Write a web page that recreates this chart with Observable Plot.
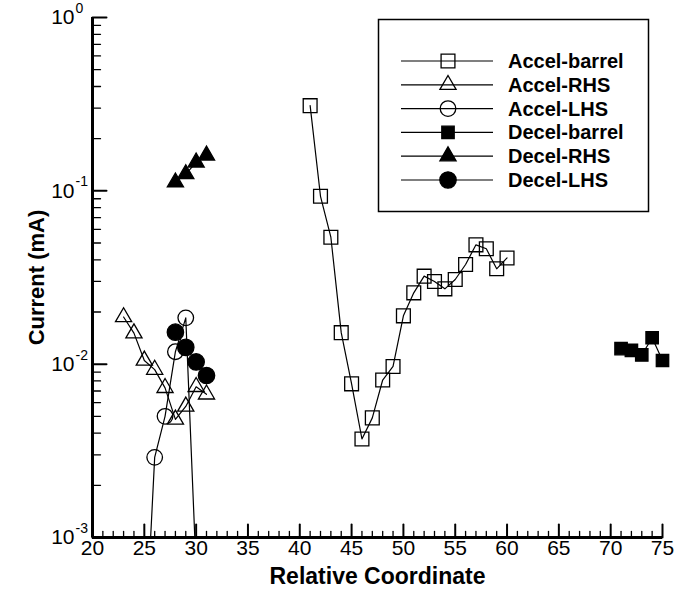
<!DOCTYPE html>
<html>
<head>
<meta charset="utf-8">
<script src="https://cdn.jsdelivr.net/npm/d3@7"></script>
<script src="https://cdn.jsdelivr.net/npm/@observablehq/plot@0.6"></script>
<style>
html, body { margin: 0; padding: 0; background: #fff; }
#wrap { position: relative; width: 676px; height: 589px; }
#wrap svg { display: block; }
#legend { position: absolute; left: 0; top: 0; }
</style>
</head>
<body>
<div id="wrap"></div>
<script>
// ---- data ----
const accelBarrelX = [41, 42, 43, 44, 45, 46, 47, 48, 49, 50, 51, 52, 53, 54, 55, 56, 57, 58, 59, 60];
const accelBarrelY = [0.31, 0.093, 0.054, 0.0152, 0.0077, 0.0037, 0.0049, 0.0081, 0.0097, 0.019, 0.0258, 0.0322, 0.0300, 0.0272, 0.0308, 0.0376, 0.0488, 0.0463, 0.0355, 0.0410];

const accelRHSX = [23, 24, 25, 26, 27, 28, 29, 30, 31];
const accelRHSY = [0.0187, 0.0151, 0.0105, 0.0093, 0.0073, 0.0048, 0.0057, 0.0074, 0.0067];

const accelLHSX = [25, 26, 27, 28, 29, 30];
const accelLHSY = [0.00019, 0.0029, 0.0050, 0.0118, 0.0185, 0.00065];

const decelBarrelX = [71, 72, 73, 74, 75];
const decelBarrelY = [0.0123, 0.0120, 0.0113, 0.0142, 0.0105];

const decelRHSX = [28, 29, 30, 31];
const decelRHSY = [0.112, 0.125, 0.146, 0.160];

const decelLHSX = [28, 29, 30, 31];
const decelLHSY = [0.0153, 0.0125, 0.0103, 0.0086];

const seriesNames = ["Accel-barrel", "Accel-RHS", "Accel-LHS", "Decel-barrel", "Decel-RHS", "Decel-LHS"];

const xMajorTicks = [20, 25, 30, 35, 40, 45, 50, 55, 60, 65, 70, 75];
const yMajorTicks = [0.001, 0.01, 0.1, 1];
const yExponents = ["-3", "-2", "-1", "0"];

// ---- build ----
const FONT = "'Liberation Sans', Arial, Helvetica, sans-serif";
const series = [
  {name: seriesNames[0], xs: accelBarrelX, ys: accelBarrelY, symbol: "square",   type: d3.symbolSquare,   r: 7.8, filled: false},
  {name: seriesNames[1], xs: accelRHSX,    ys: accelRHSY,    symbol: "triangle", type: d3.symbolTriangle, r: 6.0, filled: false},
  {name: seriesNames[2], xs: accelLHSX,    ys: accelLHSY,    symbol: "circle",   type: d3.symbolCircle,   r: 7.8, filled: false},
  {name: seriesNames[3], xs: decelBarrelX, ys: decelBarrelY, symbol: "square",   type: d3.symbolSquare,   r: 7.0, filled: true},
  {name: seriesNames[4], xs: decelRHSX,    ys: decelRHSY,    symbol: "triangle", type: d3.symbolTriangle, r: 6.0, filled: true},
  {name: seriesNames[5], xs: decelLHSX,    ys: decelLHSY,    symbol: "circle",   type: d3.symbolCircle,   r: 8.2, filled: true}
];
series.forEach(s => { s.rows = s.xs.map((x, i) => ({series: s.name, x, y: s.ys[i]})); });

const xMinorTicks = d3.range(20, 76, 1).filter(v => v % 5 !== 0);
const yMinorTicks = [];
[0.001, 0.01, 0.1].forEach(d => { for (let k = 2; k <= 9; k++) yMinorTicks.push(k * d); });

const tickShape = {draw(ctx, l) { ctx.moveTo(0, 0); ctx.lineTo(0, -l); }};

const marks = [];
series.forEach(s => {
  marks.push(Plot.line(s.rows, {x: "x", y: "y", stroke: "black", strokeWidth: 1.2, clip: true}));
});
series.forEach(s => {
  marks.push(Plot.dot(s.rows.filter(d => d.y >= 0.001), {
    x: "x", y: "y", symbol: s.symbol, r: s.r,
    stroke: "black", strokeWidth: 1.3,
    fill: s.filled ? "black" : "none"
  }));
});
// axis lines
marks.push(Plot.ruleX([20], {stroke: "black", strokeWidth: 3}));
marks.push(Plot.ruleY([0.001], {stroke: "black", strokeWidth: 3}));
// ticks (inward)
marks.push(Plot.vector(xMajorTicks, {x: d => d, frameAnchor: "bottom", length: 13, rotate: 0, anchor: "start", shape: tickShape, stroke: "black", strokeWidth: 2}));
marks.push(Plot.vector(xMinorTicks, {x: d => d, frameAnchor: "bottom", length: 6, rotate: 0, anchor: "start", shape: tickShape, stroke: "black", strokeWidth: 1.3}));
marks.push(Plot.vector(yMajorTicks, {y: d => d, frameAnchor: "left", length: 14, rotate: 90, anchor: "start", shape: tickShape, stroke: "black", strokeWidth: 2}));
marks.push(Plot.vector(yMinorTicks, {y: d => d, frameAnchor: "left", length: 8, rotate: 90, anchor: "start", shape: tickShape, stroke: "black", strokeWidth: 1.3}));
// tick labels
marks.push(Plot.text(xMajorTicks, {x: d => d, frameAnchor: "bottom", dy: 3, lineAnchor: "top", textAnchor: "middle", text: d => String(d), fontSize: 21, fill: "black"}));
marks.push(Plot.text(yMajorTicks, {y: d => d, frameAnchor: "left", dx: -18, text: () => "10", textAnchor: "end", lineAnchor: "middle", fontSize: 21, fill: "black"}));
marks.push(Plot.text(yMajorTicks, {y: d => d, frameAnchor: "left", dx: -17, dy: -9, text: (d, i) => yExponents[i], textAnchor: "start", lineAnchor: "middle", fontSize: 14, fill: "black"}));
// axis titles
marks.push(Plot.text(["Relative Coordinate"], {frameAnchor: "bottom", dy: 39, lineAnchor: "middle", textAnchor: "middle", fontSize: 23, fontWeight: "bold", fill: "black"}));
marks.push(Plot.text(["Current (mA)"], {frameAnchor: "left", dx: -56, rotate: -90, textAnchor: "middle", lineAnchor: "middle", fontSize: 22, fontWeight: "bold", fill: "black"}));

const chart = Plot.plot({
  width: 676,
  height: 589,
  marginLeft: 92,
  marginRight: 14,
  marginTop: 17,
  marginBottom: 52,
  style: {fontFamily: FONT, fontSize: "18px", background: "white", color: "black", overflow: "visible"},
  x: {domain: [20, 75], axis: null},
  y: {type: "log", domain: [0.001, 1], axis: null},
  marks
});
const wrap = document.getElementById("wrap");
wrap.appendChild(chart);

// ---- legend (inside plot area, top right) ----
const leg = d3.select(wrap).append("svg")
  .attr("id", "legend").attr("width", 676).attr("height", 589)
  .style("font-family", FONT);
leg.append("rect")
  .attr("x", 378.5).attr("y", 19.5).attr("width", 270).attr("height", 192)
  .attr("fill", "none").attr("stroke", "black").attr("stroke-width", 1.5);
series.forEach((s, i) => {
  const yy = 61 + i * 23.8;
  const g = leg.append("g");
  g.append("line").attr("x1", 401).attr("x2", 493).attr("y1", yy).attr("y2", yy)
    .attr("stroke", "black").attr("stroke-width", 1.2);
  g.append("path")
    .attr("d", d3.symbol(s.type, Math.PI * s.r * s.r)())
    .attr("transform", `translate(448,${yy})`)
    .attr("fill", s.filled ? "black" : "none")
    .attr("stroke", "black").attr("stroke-width", 1.3);
  g.append("text").attr("x", 508).attr("y", yy).attr("dy", "0.35em")
    .attr("font-size", 20).attr("font-weight", "bold").attr("fill", "black")
    .text(s.name);
});
</script>
</body>
</html>
